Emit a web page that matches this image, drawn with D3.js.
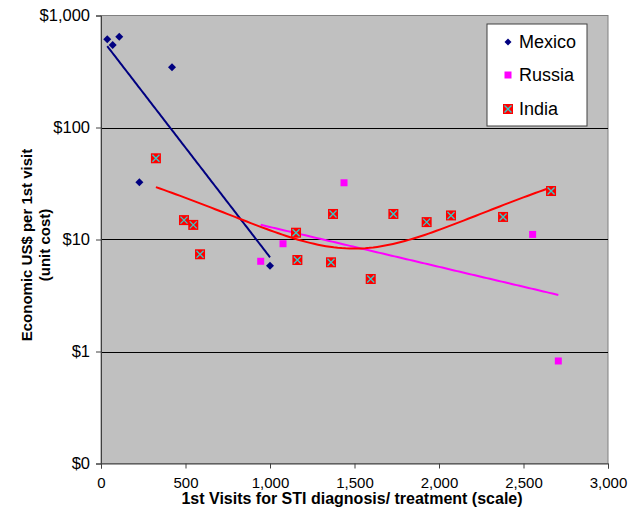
<!DOCTYPE html>
<html><head><meta charset="utf-8">
<script src="https://cdn.jsdelivr.net/npm/d3@7"></script>
<style>body{margin:0;background:#fff}svg{display:block;font-family:Arial,"Liberation Sans",sans-serif}</style>
</head><body>
<svg id="c" width="637" height="514"></svg>
<script>
const mexicoX = [37, 69, 108, 420, 227, 1000];
const mexicoY = [613, 546, 647, 345, 32.4, 5.83];
const russiaX = [945, 1077, 1438, 2554, 2706];
const russiaY = [6.39, 9.17, 32.1, 11.1, 0.823];
const indiaX = [325, 491, 546, 586, 1154, 1162, 1361, 1373, 1596, 1730, 1927, 2071, 2379, 2663];
const indiaY = [53.1, 14.9, 13.5, 7.38, 11.5, 6.56, 6.26, 16.9, 4.44, 16.9, 14.3, 16.4, 15.9, 27.1];
const xTicks = [0, 500, 1000, 1500, 2000, 2500, 3000];
const yTicks = [0.1, 1, 10, 100, 1000];
const yTickLabels = ["$0", "$1", "$10", "$100", "$1,000"];
const seriesNames = ["Mexico", "Russia", "India"];

const svg = d3.select("#c");
const L = 101, R = 608, T = 15.5, B = 463.5;
const x = d3.scaleLinear().domain([0, 3000]).range([L, R]);
const y = d3.scaleLog().domain([0.1, 1000]).range([B, T]);

svg.append("rect").attr("x", L).attr("y", T).attr("width", R - L).attr("height", B - T)
  .attr("fill", "#C0C0C0").attr("stroke", "#808080").attr("stroke-width", 1);

// gridlines
svg.append("g").selectAll("line").data([1, 10, 100]).join("line")
  .attr("x1", L).attr("x2", R).attr("y1", d => Math.round(y(d)) + 0.5).attr("y2", d => Math.round(y(d)) + 0.5)
  .attr("stroke", "#000").attr("stroke-width", 1);

// axes
const yAxis = d3.axisLeft(y).tickValues(yTicks).tickSize(5).tickPadding(6)
  .tickFormat((d, i) => yTickLabels[i]);
const gy = svg.append("g").attr("transform", `translate(${L},0)`).call(yAxis);
gy.select(".domain").attr("stroke", "#404040");
gy.selectAll(".tick line").attr("stroke", "#404040");
gy.selectAll("text").attr("font-size", 16.5).attr("fill", "#000").attr("font-family", "Arial, Liberation Sans, sans-serif");

const xAxis = d3.axisBottom(x).tickValues(xTicks).tickSize(5).tickPadding(9)
  .tickFormat(d3.format(","));
const gx = svg.append("g").attr("transform", `translate(0,${B})`).call(xAxis);
gx.select(".domain").attr("stroke", "#404040");
gx.selectAll(".tick line").attr("stroke", "#404040");
gx.selectAll("text").attr("font-size", 15).attr("fill", "#000").attr("font-family", "Arial, Liberation Sans, sans-serif");

// axis titles
svg.append("text").attr("x", 352).attr("y", 504).attr("text-anchor", "middle")
  .attr("font-weight", "bold").attr("font-size", 16).text("1st Visits for STI diagnosis/ treatment (scale)");
const yt = svg.append("text").attr("transform", "translate(32,245) rotate(-90)")
  .attr("text-anchor", "middle").attr("font-weight", "bold").attr("font-size", 15);
yt.append("tspan").attr("x", 0).attr("dy", 0).text("Economic US$ per 1st visit");
yt.append("tspan").attr("x", 0).attr("dy", 18).text("(unit cost)");

// trendlines
function expFit(xs, ys) {
  const ly = ys.map(v => Math.log(v));
  const mx = d3.mean(xs), my = d3.mean(ly);
  let sxy = 0, sxx = 0;
  xs.forEach((v, i) => { sxy += (v - mx) * (ly[i] - my); sxx += (v - mx) * (v - mx); });
  const b = sxy / sxx, a = my - b * mx;
  return t => Math.exp(a + b * t);
}
function polyFit(xs, ys) {
  const s = [0, 0, 0, 0, 0], t = [0, 0, 0];
  xs.forEach((v, i) => {
    for (let k = 0; k < 5; k++) s[k] += Math.pow(v, k);
    for (let k = 0; k < 3; k++) t[k] += ys[i] * Math.pow(v, k);
  });
  const M = [[s[0], s[1], s[2], t[0]], [s[1], s[2], s[3], t[1]], [s[2], s[3], s[4], t[2]]];
  for (let i = 0; i < 3; i++) {
    for (let j = i + 1; j < 3; j++) {
      const f = M[j][i] / M[i][i];
      for (let k = i; k < 4; k++) M[j][k] -= f * M[i][k];
    }
  }
  const c = [0, 0, 0];
  for (let i = 2; i >= 0; i--) {
    let v = M[i][3];
    for (let k = i + 1; k < 3; k++) v -= M[i][k] * c[k];
    c[i] = v / M[i][i];
  }
  return q => c[0] + c[1] * q + c[2] * q * q;
}
const line = d3.line().x(d => x(d[0])).y(d => y(d[1]));
function trend(xs, f, color) {
  const [a, b] = d3.extent(xs);
  const pts = d3.range(0, 101).map(i => { const q = a + (b - a) * i / 100; return [q, f(q)]; });
  svg.append("path").datum(pts).attr("d", line).attr("fill", "none")
    .attr("stroke", color).attr("stroke-width", 2);
}
trend(mexicoX, expFit(mexicoX, mexicoY), "#000080");
trend(russiaX, expFit(russiaX, russiaY), "#FF00FF");
trend(indiaX, polyFit(indiaX, indiaY), "#FF0000");

// markers
const diamond = (g, cx, cy, r) => g.append("path")
  .attr("d", `M${cx},${cy - r}L${cx + r},${cy}L${cx},${cy + r}L${cx - r},${cy}Z`).attr("fill", "#000080");
const square = (g, cx, cy, h) => g.append("rect").attr("x", cx - h).attr("y", cy - h)
  .attr("width", 2 * h).attr("height", 2 * h).attr("fill", "#FF00FF");
const xsq = (g, cx, cy) => {
  g.append("rect").attr("x", cx - 5).attr("y", cy - 5).attr("width", 10).attr("height", 10).attr("fill", "#FF0000");
  g.append("path").attr("d", `M${cx - 3.5},${cy - 3.5}L${cx + 3.5},${cy + 3.5}M${cx + 3.5},${cy - 3.5}L${cx - 3.5},${cy + 3.5}`)
    .attr("stroke", "#33CCCC").attr("stroke-width", 1.3);
};
const gm = svg.append("g");
mexicoX.forEach((v, i) => diamond(gm, x(v), y(mexicoY[i]), 4));
russiaX.forEach((v, i) => square(gm, x(v), y(russiaY[i]), 3.5));
indiaX.forEach((v, i) => xsq(gm, x(v), y(indiaY[i])));

// legend
const lg = svg.append("g");
lg.append("rect").attr("x", 487).attr("y", 24).attr("width", 100).attr("height", 102)
  .attr("fill", "#fff").attr("stroke", "#404040").attr("stroke-width", 1);
const ly = [42, 75, 109];
diamond(lg, 508, ly[0], 3.5);
square(lg, 508, ly[1], 3.5);
xsq(lg, 508, ly[2]);
lg.selectAll("text.l").data(seriesNames).join("text").attr("class", "l")
  .attr("x", 519).attr("y", (d, i) => ly[i] + 6).attr("font-size", 18).text(d => d);
</script>
</body></html>
